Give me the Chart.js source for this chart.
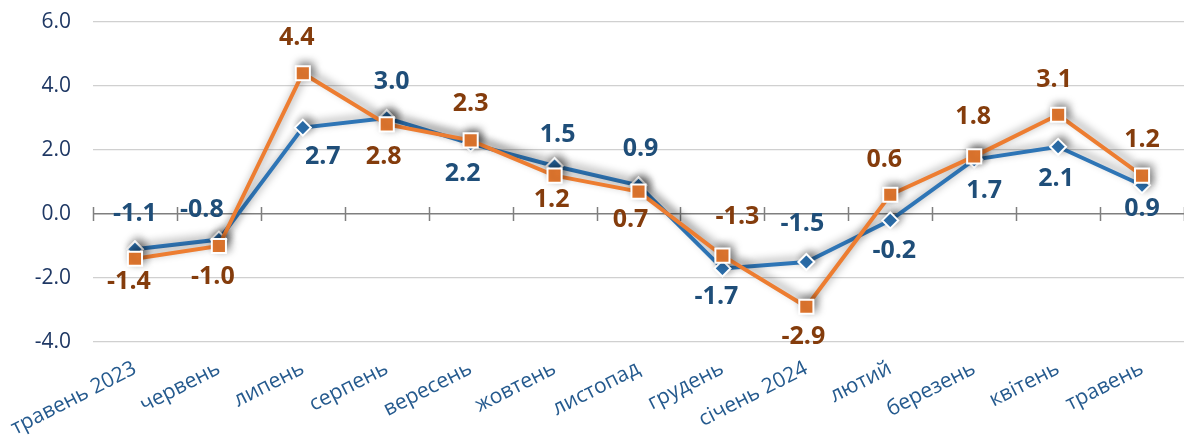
<!DOCTYPE html>
<html>
<head>
<meta charset="utf-8">
<script src="https://cdn.jsdelivr.net/npm/chart.js@4/dist/chart.umd.min.js"></script>
<style>
  html, body { margin: 0; padding: 0; background: #fff; overflow: hidden; }
  canvas { display: block; }
</style>
</head>
<body>
<canvas id="chart" width="1184" height="436"></canvas>
<script>
// data
const months = ['травень 2023', 'червень', 'липень', 'серпень', 'вересень', 'жовтень', 'листопад',
  'грудень', 'січень 2024', 'лютий', 'березень', 'квітень', 'травень'];
const blueValues = [-1.1, -0.8, 2.7, 3.0, 2.2, 1.5, 0.9, -1.7, -1.5, -0.2, 1.7, 2.1, 0.9];
const orangeValues = [-1.4, -1.0, 4.4, 2.8, 2.3, 1.2, 0.7, -1.3, -2.9, 0.6, 1.8, 3.1, 1.2];
const yMin = -4, yMax = 6, yStep = 2;

// where each value label sits relative to its point (px)
const blueLabelShift = [[0, -35], [-17, -30], [20, 29], [5, -36], [-8, 30], [3, -31], [2, -36],
  [-6, 28], [-4, -38], [4, 30], [10, 31], [-2, 32], [0, 24]];
const orangeLabelShift = [[-6, 23], [-6, 31], [-6, -35], [-3, 32], [0, -37], [-3, 24], [-8, 28],
  [15, -39], [-3, 30], [-6, -35], [-1, -40], [-4, -35], [0, -36]];

const FONT = '"Open Sans", "Noto Sans", sans-serif';

// soft shadow round both lines (falls up and to the right)
const shadowPlugin = {
  id: 'shadow',
  beforeDatasetDraw(chart) {
    const ctx = chart.ctx;
    ctx.save();
    ctx.shadowColor = 'rgba(0,0,0,0.42)';
    ctx.shadowBlur = 8;
    ctx.shadowOffsetX = 3;
    ctx.shadowOffsetY = -3;
  },
  afterDatasetDraw(chart) {
    chart.ctx.restore();
  }
};

// small category ticks on the zero line
const zeroTicks = {
  id: 'zeroTicks',
  beforeDatasetsDraw(chart) {
    const { ctx, chartArea, scales } = chart;
    const y0 = scales.y.getPixelForValue(0);
    const step = (chartArea.right - chartArea.left) / months.length;
    ctx.save();
    ctx.strokeStyle = '#7f7f7f';
    ctx.lineWidth = 1.5;
    ctx.beginPath();
    for (let k = 0; k <= months.length; k++) {
      const x = Math.round(chartArea.left + step * k) + 0.5;
      ctx.moveTo(x, y0 - 7);
      ctx.lineTo(x, y0 + 7);
    }
    ctx.stroke();
    ctx.restore();
  }
};

// value labels
const valueLabels = {
  id: 'valueLabels',
  afterDatasetsDraw(chart) {
    const ctx = chart.ctx;
    ctx.save();
    ctx.font = 'bold 25px ' + FONT;
    ctx.textAlign = 'center';
    ctx.textBaseline = 'middle';
    chart.data.datasets.forEach((ds, i) => {
      const meta = chart.getDatasetMeta(i);
      ctx.fillStyle = ds.labelColor;
      meta.data.forEach((pt, j) => {
        const s = ds.labelShift[j];
        ctx.fillText(ds.data[j].toFixed(1), pt.x + s[0], pt.y + s[1]);
      });
    });
    ctx.restore();
  }
};

new Chart(document.getElementById('chart'), {
  type: 'line',
  data: {
    labels: months,
    datasets: [
      {
        data: blueValues,
        borderColor: '#2E75B6',
        backgroundColor: '#2E75B6',
        borderWidth: 4,
        pointStyle: 'rectRot',
        pointRadius: 8,
        pointBorderColor: '#fff',
        pointBorderWidth: 2,
        pointBackgroundColor: '#2E75B6',
        labelColor: '#1F4E79',
        labelShift: blueLabelShift,
        order: 2
      },
      {
        data: orangeValues,
        borderColor: '#ED7D31',
        backgroundColor: '#ED7D31',
        borderWidth: 4,
        pointStyle: 'rect',
        pointRadius: 10,
        pointBorderColor: '#fff',
        pointBorderWidth: 2,
        pointBackgroundColor: '#ED7D31',
        labelColor: '#843C0C',
        labelShift: orangeLabelShift,
        order: 1
      }
    ]
  },
  options: {
    responsive: false,
    animation: false,
    devicePixelRatio: 1,
    layout: { autoPadding: false, padding: { top: 22, right: -1, bottom: 0, left: 0 } },
    plugins: { legend: { display: false }, tooltip: { enabled: false } },
    scales: {
      x: {
        offset: true,
        grid: { display: false, offset: true },
        border: { display: false },
        ticks: {
          autoSkip: false,
          maxRotation: 27,
          minRotation: 27,
          padding: 6,
          color: '#255A8E',
          font: { family: FONT, size: 21 }
        },
        afterFit(scale) {
          scale.height = 94;
          scale.paddingLeft = 0;
          scale.paddingRight = 0;
        }
      },
      y: {
        min: yMin,
        max: yMax,
        grid: {
          drawTicks: false,
          color: c => c.tick && c.tick.value === 0 ? '#7f7f7f' : '#d0d0d0',
          lineWidth: c => c.tick && c.tick.value === 0 ? 1.5 : 1.2
        },
        border: { display: false },
        ticks: {
          stepSize: yStep,
          padding: 22,
          color: '#1F3864',
          font: { family: FONT, size: 21 },
          callback: v => v.toFixed(1)
        },
        afterFit(scale) {
          scale.width = 93;
          scale.paddingTop = 0;
          scale.paddingBottom = 0;
        }
      }
    }
  },
  plugins: [shadowPlugin, zeroTicks, valueLabels]
});
</script>
</body>
</html>
